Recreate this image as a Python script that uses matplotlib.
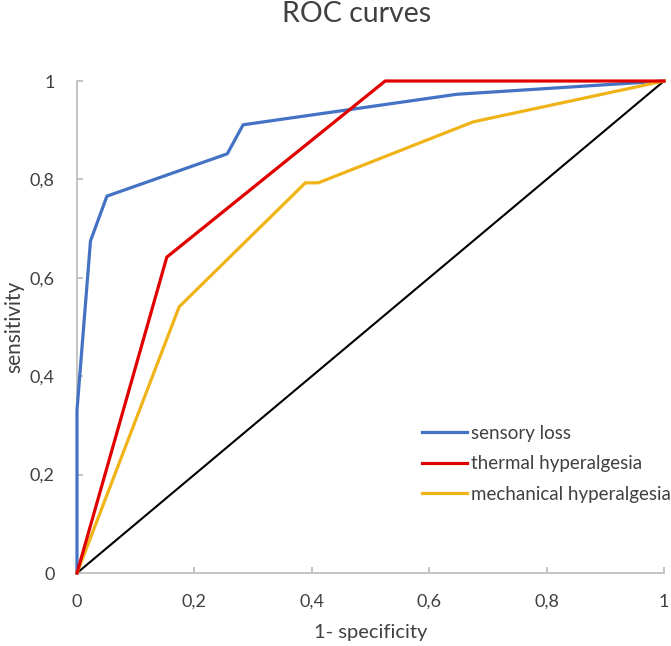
import matplotlib
matplotlib.use("Agg")
import matplotlib.pyplot as plt

# Data
sensory_fpr = [0.0, 0.0, 0.023, 0.051, 0.256, 0.283, 0.647, 1.0]
sensory_tpr = [0.0, 0.331, 0.675, 0.766, 0.852, 0.911, 0.973, 1.0]

thermal_fpr = [0.0, 0.153, 0.525, 1.0]
thermal_tpr = [0.0, 0.642, 1.0, 1.0]

mech_fpr = [0.0, 0.174, 0.389, 0.411, 0.675, 1.0]
mech_tpr = [0.0, 0.541, 0.793, 0.793, 0.917, 1.0]

ref_x = [0.0, 1.0]
ref_y = [0.0, 1.0]

tick_vals = [0, 0.2, 0.4, 0.6, 0.8, 1.0]
tick_labels = ["0", "0,2", "0,4", "0,6", "0,8", "1"]

series_labels = ["sensory loss", "thermal hyperalgesia", "mechanical hyperalgesia"]
colors = ["#4472C4", "#E00000", "#F0B418"]

plt.rcParams['font.family'] = ['Lato', 'DejaVu Sans']
W, H = 671, 646
fig = plt.figure(figsize=(W / 100, H / 100), dpi=100)
ax = fig.add_axes([77 / W, (H - 573) / H, (664 - 77) / W, (573 - 81) / H])

lw = 2.3
l1, = ax.plot(sensory_fpr, sensory_tpr, color=colors[0], lw=lw, clip_on=False, zorder=3, label=series_labels[0])
l2, = ax.plot(thermal_fpr, thermal_tpr, color=colors[1], lw=lw, clip_on=False, zorder=4, label=series_labels[1])
l3, = ax.plot(mech_fpr, mech_tpr, color=colors[2], lw=lw, clip_on=False, zorder=3, label=series_labels[2])
ax.plot(ref_x, ref_y, color="black", lw=1.5, clip_on=False, zorder=2)

ax.set_xlim(0, 1)
ax.set_ylim(0, 1)
ax.set_xticks(tick_vals)
ax.set_xticklabels(tick_labels)
ax.set_yticks(tick_vals)
ax.set_yticklabels(tick_labels)

for s in ["top", "right"]:
    ax.spines[s].set_visible(False)
for s in ["left", "bottom"]:
    ax.spines[s].set_color("#BFBFBF")
    ax.spines[s].set_linewidth(1.3)

ax.tick_params(axis="both", direction="in", length=4, width=1.3, color="#BFBFBF",
               labelsize=13, labelcolor="#404040")
ax.tick_params(axis="x", pad=15)
ax.tick_params(axis="y", pad=16)

ax.set_xlabel("1- specificity", fontsize=14.5, color="#404040", labelpad=10)
ax.set_ylabel("sensitivity", fontsize=15, color="#404040")
ax.yaxis.set_label_coords(14 / W, (H - 327) / H, transform=fig.transFigure)
ax.yaxis.label.set_va("center")
fig.text(357 / W, 1 - 14 / H, "ROC curves", ha="center", va="center", fontsize=20.5, color="#404040")

leg = ax.legend(handles=[l1, l2, l3], loc="upper left",
                bbox_to_anchor=(422 / W, 1 - 425 / H), bbox_transform=fig.transFigure,
                frameon=False, fontsize=13.5, handlelength=2.4, handletextpad=0.2,
                labelspacing=0.72, borderpad=0, borderaxespad=0)
for t in leg.get_texts():
    t.set_color("#404040")

fig.savefig("out.png", dpi=100)
